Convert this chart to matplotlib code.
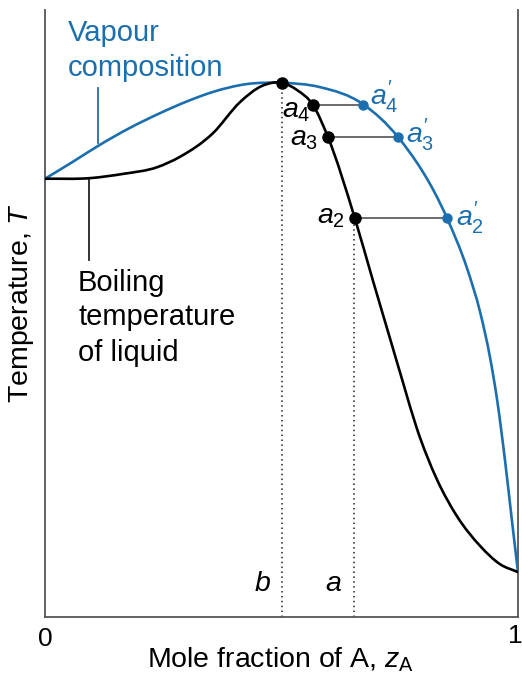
import numpy as np
import matplotlib
matplotlib.use('Agg')
import matplotlib.pyplot as plt
from matplotlib.path import Path
from matplotlib.patches import PathPatch

plt.rcParams['font.family'] = ['Liberation Sans', 'DejaVu Sans']
plt.rcParams['mathtext.fontset'] = 'custom'
plt.rcParams['mathtext.rm'] = 'Liberation Sans'
plt.rcParams['mathtext.it'] = 'Liberation Sans:italic'

# ---- data (x = mole fraction of A, T = relative temperature) ----
liquid_x = [0.0, 0.095, 0.165, 0.237, 0.285, 0.355, 0.412, 0.459, 0.501, 0.533,
            0.567, 0.598, 0.655, 0.693, 0.729, 0.757, 0.786, 0.829, 0.871, 0.920,
            0.962, 1.0]
liquid_T = [0.722, 0.723, 0.730, 0.741, 0.758, 0.797, 0.848, 0.875, 0.880, 0.868,
            0.843, 0.791, 0.657, 0.555, 0.460, 0.386, 0.311, 0.226, 0.166, 0.117,
            0.087, 0.074]
vapour_x = [0.0, 0.059, 0.112, 0.180, 0.243, 0.302, 0.355, 0.427, 0.501, 0.581,
            0.672, 0.746, 0.850, 0.892, 0.920, 0.941, 0.956, 0.973, 0.987, 1.0]
vapour_T = [0.722, 0.750, 0.776, 0.806, 0.830, 0.850, 0.865, 0.878, 0.880, 0.873,
            0.845, 0.791, 0.657, 0.575, 0.502, 0.427, 0.357, 0.255, 0.160, 0.074]

azeotrope_x, azeotrope_T = 0.501, 0.880
tie_T = [0.843, 0.791, 0.657]
tie_liquid_x = [0.567, 0.598, 0.655]
tie_vapour_x = [0.672, 0.746, 0.850]
tie_index = ['4', '3', '2']
comp_b, comp_a = 0.501, 0.653

BLUE = '#1c6fae'


def hermite_path(xs, ys):
    """Cubic Hermite curve through the points (x increasing), as Bezier segments."""
    x = np.asarray(xs, float)
    y = np.asarray(ys, float)
    h = np.diff(x)
    d = np.diff(y) / h
    m = np.empty_like(x)
    m[0], m[-1] = d[0], d[-1]
    m[1:-1] = (d[:-1] * h[1:] + d[1:] * h[:-1]) / (h[:-1] + h[1:])
    verts = [(x[0], y[0])]
    codes = [Path.MOVETO]
    for i in range(len(x) - 1):
        verts += [(x[i] + h[i] / 3, y[i] + m[i] * h[i] / 3),
                  (x[i + 1] - h[i] / 3, y[i + 1] - m[i + 1] * h[i] / 3),
                  (x[i + 1], y[i + 1])]
        codes += [Path.CURVE4] * 3
    return Path(verts, codes)


W, H = 522, 675
fig = plt.figure(figsize=(W / 100, H / 100), dpi=100)
ax = fig.add_axes([45 / W, 58 / H, 473 / W, 607 / H])
ax.set_xlim(0, 1)
ax.set_ylim(0, 1)

ax.add_patch(PathPatch(hermite_path(vapour_x, vapour_T), fc='none', ec=BLUE, lw=1.9,
                       zorder=3, capstyle='round', joinstyle='round'))
ax.add_patch(PathPatch(hermite_path(liquid_x, liquid_T), fc='none', ec='black', lw=1.9,
                       zorder=3, capstyle='round', joinstyle='round'))

# dotted composition lines
ax.plot([comp_b, comp_b], [0, azeotrope_T], color='#222222', lw=1.1, ls=(0, (1, 2.2)), zorder=2)
ax.plot([comp_a, comp_a], [0, tie_T[2]], color='#222222', lw=1.1, ls=(0, (1, 2.2)), zorder=2)

# tie lines and points
for T, xl, xv in zip(tie_T, tie_liquid_x, tie_vapour_x):
    ax.plot([xl, xv], [T, T], color='#444444', lw=1.1, zorder=2)
    ax.plot([xl], [T], 'o', color='black', ms=8, zorder=5)
    ax.plot([xv], [T], 'o', color=BLUE, ms=6.5, zorder=5)
ax.plot([azeotrope_x], [azeotrope_T], 'o', color='black', ms=8, zorder=5)

fs = 20.5
fa = 21
# labels of points
liq_lab_pos = [(0.562, 0.834), (0.578, 0.787), (0.633, 0.659)]
vap_lab_pos = [(0.688, 0.858), (0.763, 0.795), (0.868, 0.658)]
for k, (lx, ly), (vx, vy) in zip(tie_index, liq_lab_pos, vap_lab_pos):
    ax.text(lx, ly, r'$a_{%s}$' % k, fontsize=fs, ha='right', va='center')
    ax.text(vx, vy, r'$a^{\prime}_{%s}$' % k, fontsize=fs, ha='left', va='center', color=BLUE)
ax.text(0.459, 0.054, r'$b$', fontsize=fs, ha='center', va='center')
ax.text(0.609, 0.054, r'$a$', fontsize=fs, ha='center', va='center')

# annotations
ax.text(0.049, 0.962, 'Vapour', fontsize=fa, color=BLUE, ha='left', va='center')
ax.text(0.049, 0.904, 'composition', fontsize=fa, color=BLUE, ha='left', va='center')
ax.plot([0.112, 0.112], [0.781, 0.871], color=BLUE, lw=1.3)
ax.plot([0.093, 0.093], [0.588, 0.722], color='#222222', lw=1.3)
ax.text(0.070, 0.550, 'Boiling', fontsize=fa, ha='left', va='center')
ax.text(0.070, 0.494, 'temperature', fontsize=fa, ha='left', va='center')
ax.text(0.070, 0.435, 'of liquid', fontsize=fa, ha='left', va='center')

# axes styling
for s in ['left', 'bottom', 'right']:
    ax.spines[s].set_color('#555555')
    ax.spines[s].set_linewidth(1.3)
ax.spines['top'].set_visible(False)
ax.set_yticks([])
ax.set_xticks([])

# tick labels and axis titles
fig.text(45 / W, 1 - 639 / H, '0', fontsize=19, ha='center', va='center')
fig.text(523 / W, 1 - 636 / H, '1', fontsize=19, ha='right', va='center')
fig.text(281 / W, 7 / H, r'Mole fraction of A, $z_\mathrm{A}$', fontsize=fs,
         ha='center', va='baseline')
fig.text(22 / W, 1 - 303 / H, r'Temperature, $T$', fontsize=fs, rotation=90,
         ha='center', va='center')

fig.savefig('out.png', dpi=100)
